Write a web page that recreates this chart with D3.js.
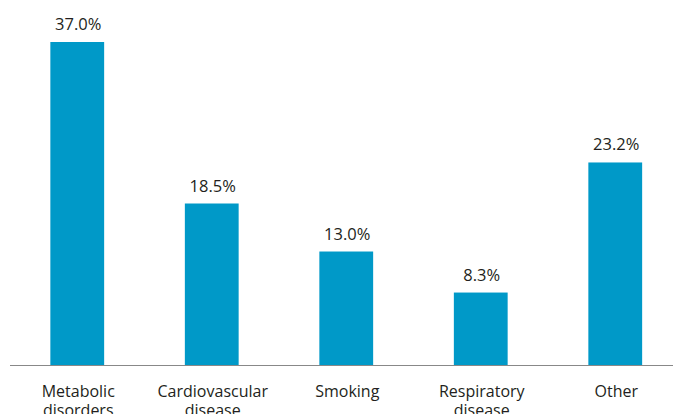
<!DOCTYPE html>
<html><head><meta charset="utf-8">
<script src="https://cdn.jsdelivr.net/npm/d3@7"></script>
<style>body{margin:0;background:#fff}svg{display:block}</style>
</head><body>
<svg id="c" width="673" height="414"></svg>
<script>
const categories = [["Metabolic","disorders"],["Cardiovascular","disease"],["Smoking"],["Respiratory","disease"],["Other"]];
const values = [37.0, 18.5, 13.0, 8.3, 23.2];
const valueLabels = ["37.0%","18.5%","13.0%","8.3%","23.2%"];

const svg = d3.select("#c");
const font = "'Open Sans', sans-serif";
const keys = categories.map(c => c.join(" "));
const x = d3.scaleBand().domain(keys).range([10, 682.5]).paddingInner(0.6).paddingOuter(0.3);
const y = d3.scaleLinear().domain([0, 37]).range([365, 42]);

svg.selectAll("rect.bar").data(values).join("rect")
  .attr("x", (d,i) => x(keys[i])).attr("width", x.bandwidth())
  .attr("y", d => y(d)).attr("height", d => y(0) - y(d))
  .attr("fill", "#0099c8");

svg.selectAll("text.val").data(values).join("text")
  .attr("x", (d,i) => x(keys[i]) + x.bandwidth()/2 + 1)
  .attr("y", d => y(d) - 12)
  .attr("text-anchor", "middle").attr("font-family", font).attr("font-size", 16.5)
  .attr("fill", "#231f20").text((d,i) => valueLabels[i]);

svg.append("line").attr("x1", 10).attr("x2", 673).attr("y1", 365.5).attr("y2", 365.5)
  .attr("stroke", "#888").attr("stroke-width", 1.2);

const lab = svg.selectAll("text.cat").data(categories).join("text")
  .attr("text-anchor", "middle").attr("font-family", font).attr("font-size", 16).attr("fill", "#231f20");
lab.each(function(c,i){
  const t = d3.select(this);
  c.forEach((s,j) => t.append("tspan").attr("x", x(keys[i]) + x.bandwidth()/2 + 1).attr("y", 396.5 + j*19.5).text(s));
});
</script>
</body></html>
